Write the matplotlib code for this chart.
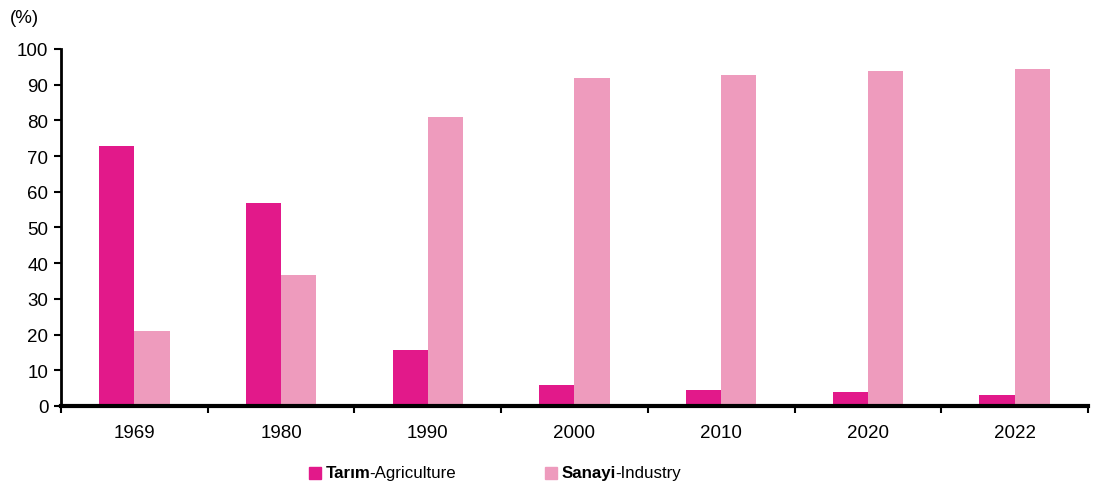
import matplotlib.pyplot as plt
import numpy as np
from matplotlib.patches import Rectangle

plt.rcParams['font.family'] = ['Liberation Sans', 'DejaVu Sans']

# data
years = ["1969", "1980", "1990", "2000", "2010", "2020", "2022"]
agriculture = [72.8, 56.9, 15.8, 5.9, 4.4, 3.8, 3.1]
industry = [21.0, 36.7, 81.0, 91.9, 92.7, 93.8, 94.4]

agri_color = "#E2198A"
ind_color = "#EE9BBD"

fig = plt.figure(figsize=(10.93, 4.89), dpi=100)
ax = fig.add_axes([0.0558, 0.1677, 0.9396, 0.7301])

x = np.arange(len(years))
w = 0.24
ax.bar(x - w / 2, agriculture, w, color=agri_color)
ax.bar(x + w / 2, industry, w, color=ind_color)

ax.set_xlim(-0.5, len(years) - 0.5)
ax.set_ylim(0, 100)
ax.set_yticks(range(0, 101, 10))
ax.tick_params(axis='y', labelsize=13.5, length=5, width=1.5, direction='out', pad=4)

# category labels centred, ticks on the boundaries
ax.set_xticks(x)
ax.set_xticklabels(years, fontsize=13.5)
ax.tick_params(axis='x', length=0, pad=13)
ax.set_xticks(np.arange(-0.5, len(years)), minor=True)
ax.tick_params(axis='x', which='minor', length=5, width=1.5, direction='out')

for s in ['top', 'right']:
    ax.spines[s].set_visible(False)
ax.spines['left'].set_linewidth(2)
ax.spines['bottom'].set_linewidth(3)

fig.text(0.009, 0.952, "(%)", fontsize=13.5)

# legend drawn by hand so the first word can be bold
fig.canvas.draw()
r = fig.canvas.get_renderer()
def legend_item(xpix, color, bold, rest):
    fig.patches.append(Rectangle((xpix / 1093, 9 / 489), 12 / 1093, 12 / 489,
                                 transform=fig.transFigure, color=color))
    t = fig.text((xpix + 17) / 1093, 15 / 489, bold, fontsize=12.2, fontweight='bold', va='center')
    bb = t.get_window_extent(r)
    fig.text((bb.x1 - 1.5) / 1093, 15 / 489, rest, fontsize=12.2, va='center')

legend_item(309, agri_color, "Tarım", "-Agriculture")
legend_item(545, ind_color, "Sanayi", "-Industry")

fig.savefig("out.png", dpi=100)
